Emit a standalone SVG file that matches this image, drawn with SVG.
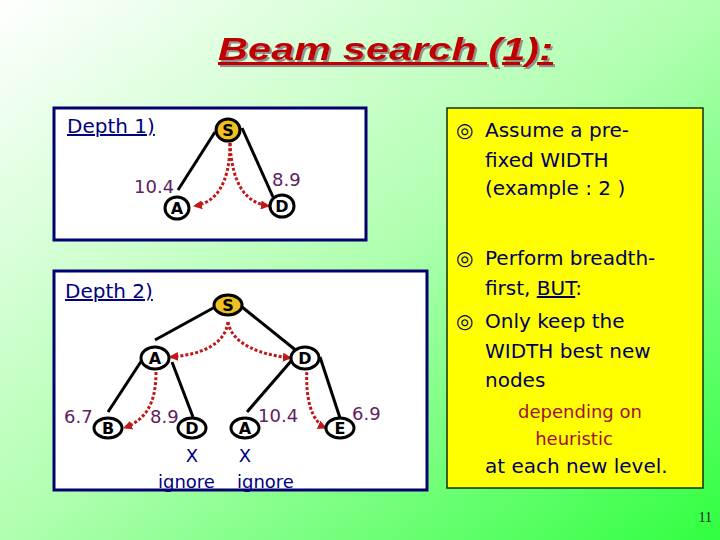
<svg xmlns="http://www.w3.org/2000/svg" width="720" height="540" viewBox="0 0 720 540">
<defs>
<linearGradient id="bg" x1="0" y1="0" x2="1" y2="1">
<stop offset="0" stop-color="#ffffff"/>
<stop offset="0.5" stop-color="#b0ffb0"/>
<stop offset="1" stop-color="#30ff40"/>
</linearGradient>
<filter id="sh" x="-5%" y="-20%" width="110%" height="150%">
<feDropShadow dx="2" dy="2" stdDeviation="0.6" flood-color="#888888" flood-opacity="0.9"/>
</filter>
<marker id="ah" viewBox="0 0 10 10" refX="9" refY="5" markerWidth="9" markerHeight="9" markerUnits="userSpaceOnUse" orient="auto">
<path d="M0,0 L10,5 L0,10 z" fill="#c01818"/>
</marker>
</defs>
<style>
.panel{fill:#ffffff;stroke:#000070;stroke-width:3}
.ybox{fill:#ffff00;stroke:#103010;stroke-width:1.5}
.edge{stroke:#000000;stroke-width:3;fill:none}
.arr{stroke:#c01818;stroke-width:3;fill:none;stroke-dasharray:3 2;marker-end:url(#ah)}
.node{fill:#ffffff;stroke:#000000;stroke-width:3}
.start{fill:#f0c020;stroke:#000000;stroke-width:3}
.lbl{font-family:"DejaVu Sans",sans-serif;font-weight:bold;font-size:16px;fill:#000000;text-anchor:middle}
.num{font-family:"DejaVu Sans",sans-serif;font-size:18px;fill:#602060}
.dep{font-family:"DejaVu Sans",sans-serif;font-size:20px;fill:#000080;text-decoration:underline}
.nav{font-family:"DejaVu Sans",sans-serif;font-size:18px;fill:#000080}
.bt{font-family:"DejaVu Sans",sans-serif;font-size:20px;fill:#000060}
.bul{font-family:"DejaVu Sans",sans-serif;font-size:20px;font-weight:bold;fill:#000060}
.red{font-family:"DejaVu Sans",sans-serif;font-size:18px;fill:#a01030;text-anchor:middle}
</style>
<rect x="0" y="0" width="720" height="540" fill="url(#bg)"/>
<text x="218" y="60" font-family="Liberation Sans, Arial, sans-serif" font-weight="bold" font-style="italic" font-size="31" fill="#c00000" text-decoration="underline" textLength="335" lengthAdjust="spacingAndGlyphs" filter="url(#sh)">Beam search (1):</text>

<rect class="panel" x="54" y="108" width="312" height="132"/>
<rect class="panel" x="54" y="271" width="373" height="219"/>
<rect class="ybox" x="447" y="108" width="256" height="380"/>

<text class="dep" x="67" y="133">Depth 1)</text>
<text class="dep" x="65" y="298">Depth 2)</text>

<g id="connectors">
<line class="edge" x1="215" y1="132" x2="178" y2="190"/>
<line class="edge" x1="242" y1="128" x2="273" y2="197"/>
<path class="arr" d="M230,143 C230,185 215,203 194,206"/>
<path class="arr" d="M230,143 C232,185 246,203 269,206"/>
<line class="edge" x1="215" y1="307" x2="155" y2="340"/>
<line class="edge" x1="242" y1="307" x2="298" y2="352"/>
<line class="edge" x1="142" y1="360" x2="108" y2="412"/>
<line class="edge" x1="172" y1="362" x2="193" y2="417"/>
<line class="edge" x1="292" y1="360" x2="247" y2="412"/>
<line class="edge" x1="320" y1="357" x2="340" y2="418"/>
<path class="arr" d="M228,322 C225,345 200,355 170,357"/>
<path class="arr" d="M228,322 C232,345 262,355 291,358"/>
<path class="arr" d="M156,372 C156,405 145,420 124,428"/>
<path class="arr" d="M307,367 C305,400 312,422 326,428"/>
</g>

<g id="d1-S"><ellipse class="start" cx="228" cy="130" rx="12" ry="11"/><text class="lbl" x="228" y="136">S</text></g>
<g id="d1-A"><ellipse class="node" cx="177" cy="208" rx="12" ry="11"/><text class="lbl" x="177" y="214">A</text></g>
<g id="d1-D"><ellipse class="node" cx="282" cy="206" rx="12" ry="11"/><text class="lbl" x="282" y="212">D</text></g>
<text class="num" x="134" y="193">10.4</text>
<text class="num" x="272" y="186">8.9</text>

<g id="d2-S"><ellipse class="start" cx="228" cy="305" rx="14" ry="10"/><text class="lbl" x="228" y="311">S</text></g>
<g id="d2-A"><ellipse class="node" cx="155" cy="358" rx="14" ry="11"/><text class="lbl" x="155" y="364">A</text></g>
<g id="d2-D"><ellipse class="node" cx="305" cy="358" rx="14" ry="11"/><text class="lbl" x="305" y="364">D</text></g>
<g id="d2-B"><ellipse class="node" cx="108" cy="428" rx="14" ry="10"/><text class="lbl" x="108" y="434">B</text></g>
<g id="d2-D2"><ellipse class="node" cx="192" cy="428" rx="14" ry="10"/><text class="lbl" x="192" y="434">D</text></g>
<g id="d2-A2"><ellipse class="node" cx="245" cy="428" rx="14" ry="10"/><text class="lbl" x="245" y="434">A</text></g>
<g id="d2-E"><ellipse class="node" cx="340" cy="428" rx="14" ry="10"/><text class="lbl" x="340" y="434">E</text></g>
<text class="num" x="64" y="423">6.7</text>
<text class="num" x="150" y="423">8.9</text>
<text class="num" x="258" y="422">10.4</text>
<text class="num" x="352" y="420">6.9</text>
<text class="nav" x="192" y="462" text-anchor="middle">X</text>
<text class="nav" x="245" y="462" text-anchor="middle">X</text>
<text class="nav" x="158" y="488">ignore</text>
<text class="nav" x="237" y="488">ignore</text>

<text class="bul" x="456" y="137">◎</text>
<text class="bt" x="485" y="137">Assume a pre-</text>
<text class="bt" x="485" y="167">fixed WIDTH</text>
<text class="bt" x="485" y="195">(example : 2 )</text>
<text class="bul" x="456" y="265">◎</text>
<text class="bt" x="485" y="265">Perform breadth-</text>
<text class="bt" x="485" y="295">first, <tspan text-decoration="underline">BUT</tspan>:</text>
<text class="bul" x="456" y="328">◎</text>
<text class="bt" x="485" y="328">Only keep the</text>
<text class="bt" x="485" y="358">WIDTH best new</text>
<text class="bt" x="485" y="387">nodes</text>
<text class="red" x="580" y="418">depending on</text>
<text class="red" x="574" y="445">heuristic</text>
<text class="bt" x="485" y="473">at each new level.</text>

<text x="712" y="522" text-anchor="end" font-family="Liberation Serif, serif" font-size="14" fill="#202020">11</text>
</svg>
